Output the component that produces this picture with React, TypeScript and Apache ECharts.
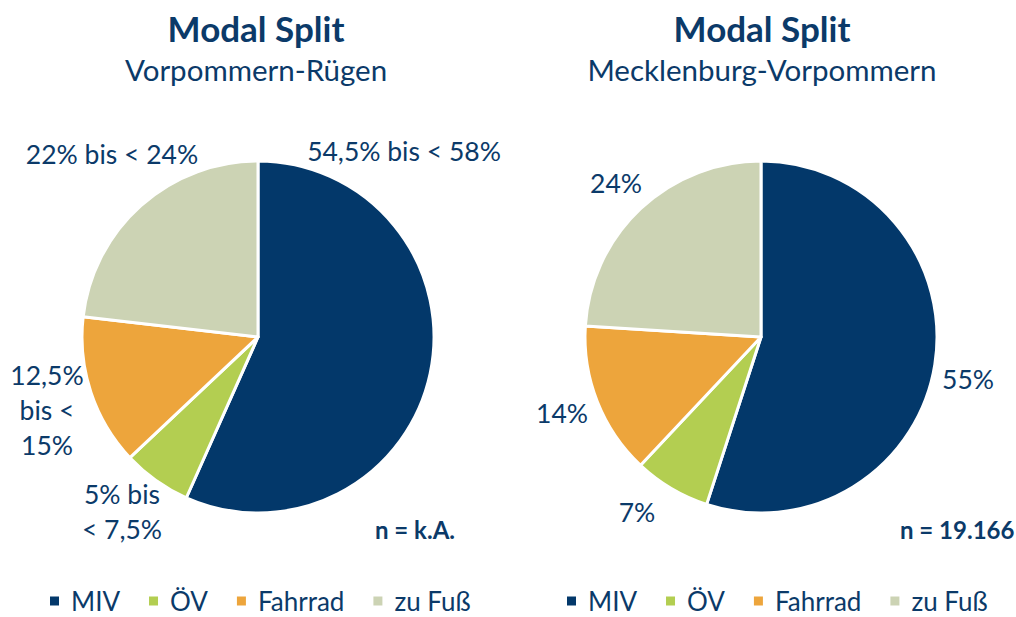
import React, { useEffect, useRef } from "react";
import * as echarts from "echarts";

const categories = ["MIV", "ÖV", "Fahrrad", "zu Fuß"];
const colors = ["#03386A", "#B3CE51", "#EDA53C", "#CCD3B4"];

// Vorpommern-Rügen: ranges given, values = midpoints of the ranges
const vrValues = [56.25, 6.25, 13.75, 23];
const vrLabels = ["54,5% bis < 58%", "5% bis\n< 7,5%", "12,5%\nbis <\n15%", "22% bis < 24%"];

// Mecklenburg-Vorpommern
const mvValues = [55, 7, 14, 24];
const mvLabels = ["55%", "7%", "14%", "24%"];

const titles = ["Modal Split", "Modal Split"];
const subtitles = ["Vorpommern-Rügen", "Mecklenburg-Vorpommern"];
const sampleNotes = ["n = k.A.", "n = 19.166"];

const TEXT = "#0B3A69";
const FONT = "Lato";

// label anchor positions (layout, in px)
const vrLabelPos = [[404, 151], [122, 511], [47, 410], [112, 154]];
const mvLabelPos = [[968, 379], [637, 512], [562, 413], [616, 183]];

export default function App() {
  const ref = useRef<HTMLDivElement>(null);
  useEffect(() => {
    document.body.style.margin = "0";
    const chart = echarts.init(ref.current!, undefined, { renderer: "svg" });
    const mkSeries = (values: number[], labels: string[], center: string[], pos: number[][]) => ({
      type: "pie",
      center,
      radius: 176,
      startAngle: 90,
      clockwise: true,
      avoidLabelOverlap: false,
      itemStyle: { borderColor: "#fff", borderWidth: 3 },
      emphasis: { disabled: true },
      label: {
        show: true,
        position: "outside",
        formatter: (p: any) => labels[p.dataIndex],
        color: TEXT,
        fontFamily: FONT,
        fontSize: 26.5,
        lineHeight: 35,
        align: "center",
      },
      labelLine: { show: false },
      labelLayout: (p: any) => ({
        x: pos[p.dataIndex][0],
        y: pos[p.dataIndex][1],
        align: "center",
        verticalAlign: "middle",
      }),
      data: categories.map((c, i) => ({ name: c, value: values[i], itemStyle: { color: colors[i] } })),
    });
    const legendBase = {
      icon: "rect",
      itemWidth: 11,
      itemHeight: 11,
      itemGap: 27,
      padding: 0,
      width: 480,
      top: 588,
      textStyle: { color: TEXT, fontFamily: FONT, fontSize: 26, lineHeight: 26, padding: [0, 0, 0, 6] },
      data: categories,
      selectedMode: false,
    };
    chart.setOption({
      animation: false,
      title: [0, 1].map((i) => ({
        text: titles[i],
        subtext: subtitles[i],
        left: i === 0 ? 251 : 757,
        top: 5,
        textAlign: "center",
        itemGap: 9,
        textStyle: { color: TEXT, fontFamily: FONT, fontWeight: "bold", fontSize: 35 },
        subtextStyle: { color: TEXT, fontFamily: FONT, fontSize: 29.5 },
      })),
      legend: [
        { ...legendBase, left: 48 },
        { ...legendBase, left: 565 },
      ],
      series: [
        mkSeries(vrValues, vrLabels, ["258", "337"], vrLabelPos),
        mkSeries(mvValues, mvLabels, ["761", "337"], mvLabelPos),
      ],
      graphic: [
        {
          type: "text",
          left: 375,
          top: 517,
          style: { text: sampleNotes[0], fill: TEXT, font: `bold 24px ${FONT}` },
        },
        {
          type: "text",
          left: 900,
          top: 517,
          style: { text: sampleNotes[1], fill: TEXT, font: `bold 24px ${FONT}` },
        },
      ],
    });
    return () => chart.dispose();
  }, []);
  return <div ref={ref} style={{ width: 1016, height: 617 }} />;
}
